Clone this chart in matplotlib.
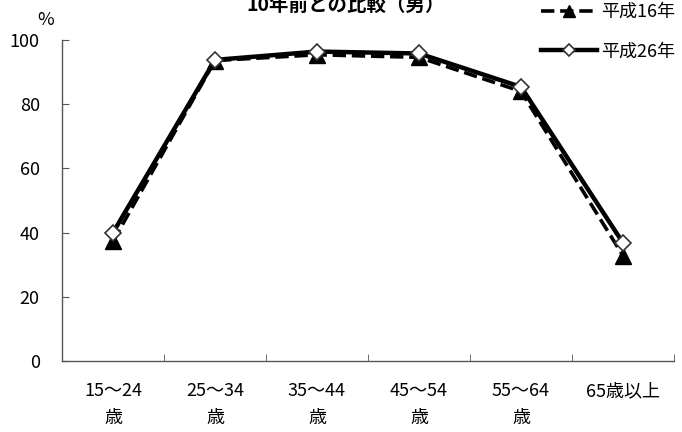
import matplotlib
matplotlib.use("Agg")
import matplotlib.pyplot as plt
import numpy as np

plt.rcParams['font.family'] = ['Noto Sans CJK JP', 'DejaVu Sans']

categories = ["15～24\n歳", "25～34\n歳", "35～44\n歳", "45～54\n歳", "55～64\n歳", "65歳以上"]
h16 = [37.3, 93.6, 95.4, 94.6, 84.0, 32.8]
h26 = [40.0, 93.8, 96.4, 95.8, 85.4, 36.8]
series_labels = ["平成16年", "平成26年"]
yticks = [0, 20, 40, 60, 80, 100]
title = "10年前との比較（男）"

fig = plt.figure(figsize=(6.82, 4.32), dpi=100)
ax = fig.add_axes([62/682, 1-361/432, (674-62)/682, (361-40)/432])

x = np.arange(len(categories))
l16, = ax.plot(x, h16, color='black', lw=2.6, ls='--', marker='^', ms=12,
               mfc='black', mec='black', zorder=3, label=series_labels[0])
l26, = ax.plot(x, h26, color='black', lw=3.2, ls='-', marker='D', ms=8,
               mfc='white', mec='#333333', mew=1.2, zorder=4, label=series_labels[1])

ax.set_xlim(-0.5, len(categories) - 0.5)
ax.set_ylim(0, 100)
ax.set_yticks(yticks)
ax.set_yticklabels([str(v) for v in yticks], fontsize=13)
ax.set_xticks(x)
ax.set_xticklabels(categories, fontsize=13, linespacing=1.66)
ax.set_xticks(np.arange(-0.5, len(categories)), minor=True)
ax.tick_params(axis='x', which='major', length=0, pad=15)
ax.tick_params(axis='x', which='minor', direction='in', length=5, color='#555555')
ax.tick_params(axis='y', direction='in', length=5, pad=16, color='#555555')

for s in ['top', 'right']:
    ax.spines[s].set_visible(False)
for s in ['left', 'bottom']:
    ax.spines[s].set_color('#555555')
    ax.spines[s].set_linewidth(1.0)

fig.text(46/682, 1-20/432, "%", fontsize=13, ha='center', va='center')
fig.text(346/682, 1-5/432, title, fontsize=14, fontweight='bold', ha='center', va='center')

leg = fig.legend(handles=[l16, l26], loc='upper left', bbox_to_anchor=(541/682, 1.0 - 3/432),
                 frameon=False, fontsize=13, handlelength=3.1, handletextpad=0.25,
                 labelspacing=1.2, borderaxespad=0, borderpad=0, markerscale=0.75)

fig.savefig("out.png", dpi=100)
